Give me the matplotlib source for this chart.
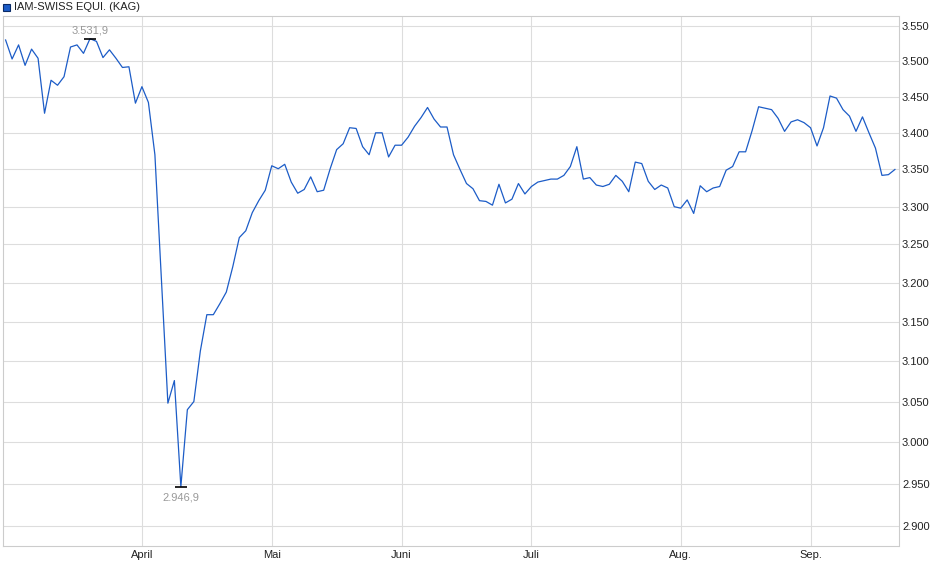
import numpy as np
import pandas as pd
import matplotlib
matplotlib.use("Agg")
import matplotlib.pyplot as plt
from matplotlib.ticker import FixedLocator, NullLocator

plt.rcParams['font.family'] = ['Liberation Sans', 'DejaVu Sans']

# trading days (SIX holidays removed)
holidays = ["2025-04-18", "2025-04-21", "2025-05-01", "2025-05-29", "2025-06-09", "2025-08-01"]
dates = pd.bdate_range("2025-03-03", "2025-09-18", freq="C", holidays=holidays)

# fund price
prices = [
    3530, 3503, 3523, 3494, 3517, 3504, 3427, 3473, 3466, 3478,
    3520, 3523, 3511, 3531.9, 3528, 3505, 3516, 3504, 3491, 3492,
    3441, 3464, 3442, 3370, 3205, 3048, 3076, 2946.9, 3040, 3050,
    3113, 3159, 3159, 3173, 3188, 3221, 3259, 3268, 3292, 3308,
    3322, 3355, 3351, 3357, 3333, 3318, 3323, 3340, 3320, 3322,
    3351, 3377, 3385, 3407, 3406, 3381, 3370, 3400, 3400, 3367,
    3383, 3383, 3394, 3409, 3421, 3435, 3419, 3408, 3408, 3370,
    3350, 3331, 3324, 3308, 3307, 3302, 3330, 3305, 3310, 3331,
    3317, 3327, 3333, 3335, 3337, 3337, 3342, 3354, 3381, 3337,
    3339, 3329, 3327, 3330, 3342, 3334, 3320, 3360, 3358, 3334,
    3323, 3329, 3325, 3300, 3298, 3309, 3291, 3328, 3320, 3325,
    3327, 3349, 3354, 3374, 3374, 3403, 3436, 3434, 3432, 3420,
    3402, 3415, 3418, 3414, 3407, 3382, 3407, 3451, 3448, 3432,
    3423, 3402, 3422, 3400, 3379, 3342, 3343, 3350,
]

month_names = {4: "April", 5: "Mai", 6: "Juni", 7: "Juli", 8: "Aug.", 9: "Sep."}
y_ticks = [2900, 2950, 3000, 3050, 3100, 3150, 3200, 3250, 3300, 3350, 3400, 3450, 3500, 3550]
series_name = "IAM-SWISS EQUI. (KAG)"

s = pd.Series(prices, index=dates)
x = np.arange(len(s))

def de_num(v, dec=0):
    txt = f"{v:,.{dec}f}"
    return txt.replace(",", "X").replace(".", ",").replace("X", ".")

fig = plt.figure(figsize=(9.4, 5.79), dpi=100)
ax = fig.add_axes([3 / 940, 1 - 545.5 / 579, (898.5 - 3) / 940, (545.5 - 16) / 579])

line_color = "#1c5cc7"
ax.plot(x, s.values, color=line_color, lw=0.9, zorder=3)

ax.set_yscale("log")
ax.set_ylim(2877.6, 3564.4)
ax.set_xlim(-0.4, 137.55)

ax.yaxis.set_major_locator(FixedLocator(y_ticks))
ax.yaxis.set_minor_locator(NullLocator())
ax.set_yticks(y_ticks)
ax.set_yticklabels([de_num(v) for v in y_ticks])
ax.yaxis.tick_right()

# month ticks at first trading day of each month
month_pos = []
month_lab = []
months = s.index.month
for i in range(1, len(months)):
    if months[i] != months[i - 1]:
        month_pos.append(i)
        month_lab.append(month_names[months[i]])
ax.set_xticks(month_pos)
ax.set_xticklabels(month_lab)

ax.tick_params(axis="both", length=0, labelsize=8, colors="#222222")
ax.tick_params(axis="y", pad=2.5)
ax.tick_params(axis="x", pad=3)
ax.grid(True, color="#dddddd", lw=0.8, zorder=0)
for sp in ax.spines.values():
    sp.set_color("#cccccc")
    sp.set_linewidth(0.8)

# high / low markers
i_max = int(np.argmax(s.values))
i_min = int(np.argmin(s.values))
for i, off, va in [(i_max, 2, "bottom"), (i_min, -4.5, "top")]:
    ax.plot(i, s.values[i], marker="_", ms=9, mew=1.2, color="black", zorder=4)
    ax.annotate(de_num(s.values[i], 1), (i, s.values[i]), xytext=(0, off),
                textcoords="offset points", ha="center", va=va,
                fontsize=8, color="#999999")

# legend
fig.patches.append(plt.Rectangle((3 / 940, 1 - 11 / 579), 7 / 940, 7 / 579,
                                 transform=fig.transFigure, facecolor=line_color,
                                 edgecolor="#0a2a66", lw=0.8))
fig.text(14 / 940, 1 - 7 / 579, series_name, fontsize=8, va="center", ha="left", color="#222222")

fig.savefig("out.png", dpi=100)
